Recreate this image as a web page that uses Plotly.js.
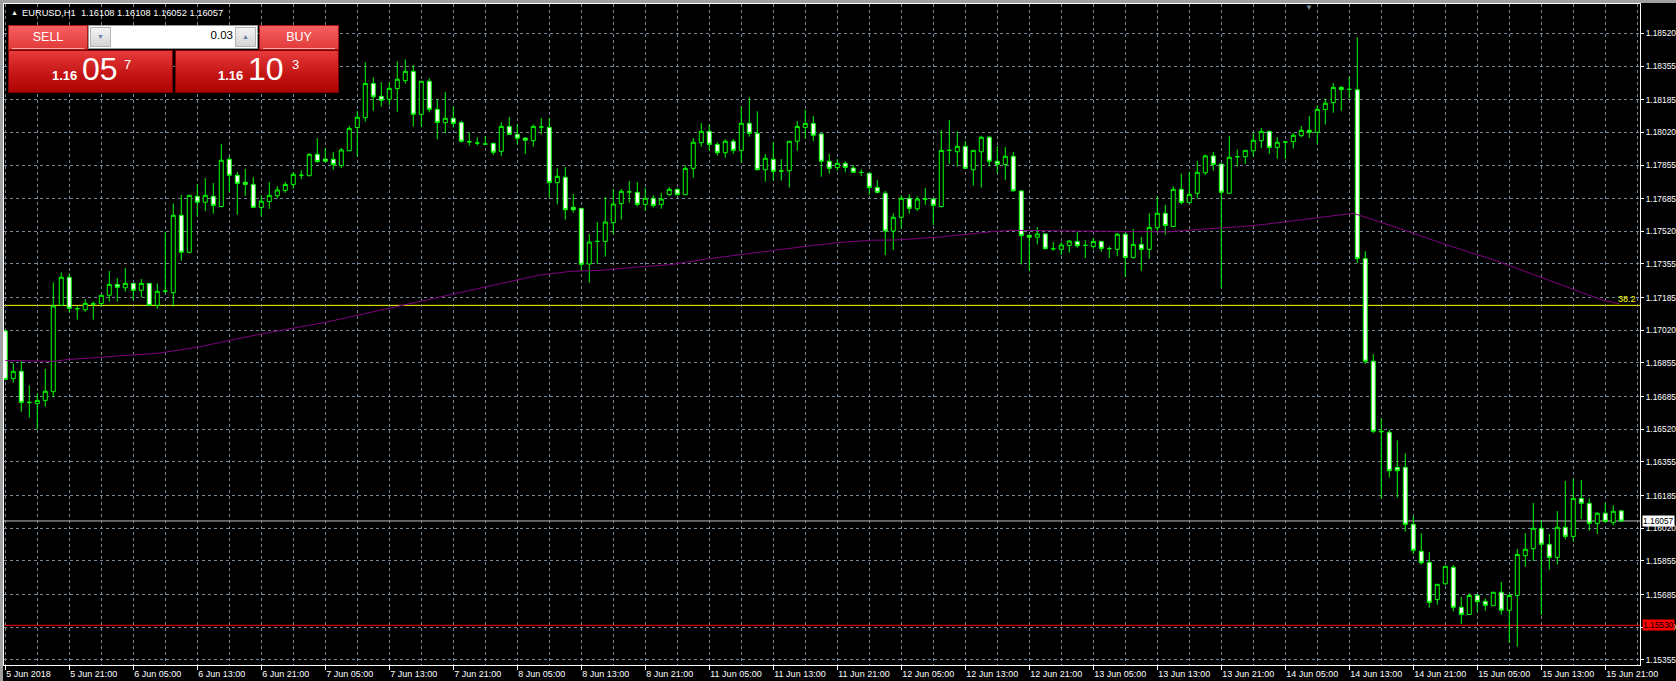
<!DOCTYPE html>
<html><head><meta charset="utf-8">
<script src="https://cdn.plot.ly/plotly-3.0.1.min.js"></script>
<style>
html,body{margin:0;padding:0;background:#000;width:1676px;height:681px;overflow:hidden;font-family:"Liberation Sans",Arial,sans-serif;}
#chart{position:absolute;left:0;top:0;width:1676px;height:681px;}
#frameL{position:absolute;left:0;top:0;width:3px;height:681px;background:#a0a0a0;}
#frameT{position:absolute;left:0;top:0;width:1676px;height:3px;background:#a0a0a0;}
#panel div,#panel span{position:absolute;box-sizing:border-box;}
.btn{top:25px;height:25px;width:80px;background:linear-gradient(#f56060,#e23a3a);border:1px solid #a81818;color:#fff;font-size:12.5px;text-align:center;line-height:23px;}
.btn i{position:absolute;left:3px;right:3px;bottom:0;height:1px;background:#f6a8a8;}
.sell{left:8px;}
.buy{left:259px;}
.lot{left:88px;top:25px;width:170px;height:24px;background:#fff;border:1px solid #9a9a9a;}
.spin{top:1px;width:21px;height:20px;background:linear-gradient(#f4f4f4,#d4d4d4);border:1px solid #b4b4b4;font-size:7px;color:#6878a8;text-align:center;line-height:18px;}
.dn{left:1px;}
.up{right:1px;}
.val{right:24px;top:4px;font-size:11.5px;color:#000;line-height:1;}
.big{top:50px;height:43px;background:linear-gradient(#e83a3a,#c61616 55%,#ad0303);border:1px solid #7c0000;color:#fff;}
.bl{left:8px;width:165px;}
.br{left:175px;width:164px;}
.s{font-size:13px;font-weight:bold;line-height:1;top:18px;}
.b{font-size:32px;line-height:1;top:2px;}
.p{font-size:13px;line-height:1;top:7px;}
</style></head><body>
<div id="chart"></div>
<div id="frameL"></div><div id="frameT"></div>
<div id="panel">
  <div class="btn sell">SELL<i></i></div>
  <div class="lot"><div class="spin dn">&#9660;</div><span class="val">0.03</span><div class="spin up">&#9650;</div></div>
  <div class="btn buy">BUY<i></i></div>
  <div class="big bl"><span class="s" style="left:43px">1.16</span><span class="b" style="left:73px">05</span><span class="p" style="left:115px">7</span></div>
  <div class="big br"><span class="s" style="left:42px">1.16</span><span class="b" style="left:72px">10</span><span class="p" style="left:116px">3</span></div>
</div>
<script>
// ---- data (EURUSD H1, 5 Jun 2018 13:00 .. 15 Jun 2018 23:00) ----
const openP = [
1.17017,1.16776,1.16813,1.16657,1.16650,1.16666,1.16710,1.17146,1.17288,1.17128,
1.17124,1.17153,1.17155,1.17197,1.17252,1.17235,1.17257,1.17222,1.17257,1.17146,
1.17217,1.17210,1.17601,1.17414,1.17697,1.17667,1.17697,1.17645,1.17884,1.17803,
1.17768,1.17757,1.17641,1.17670,1.17700,1.17727,1.17757,1.17803,1.17801,1.17909,
1.17885,1.17884,1.17852,1.17927,1.18044,1.18094,1.18267,1.18202,1.18187,1.18241,
1.18281,1.18328,1.18111,1.18278,1.18136,1.18069,1.18091,1.18070,1.17973,1.17966,
1.17961,1.17964,1.17924,1.18050,1.18010,1.17991,1.17978,1.18047,1.18045,1.17766,
1.17793,1.17641,1.17636,1.17355,1.17469,1.17469,1.17564,1.17660,1.17719,1.17717,
1.17656,1.17687,1.17656,1.17705,1.17732,1.17705,1.17838,1.17968,1.18025,1.17959,
1.17917,1.17975,1.17929,1.18066,1.18015,1.17831,1.17884,1.17825,1.17826,1.17975,
1.18045,1.18065,1.18012,1.17874,1.17842,1.17863,1.17840,1.17818,1.17813,1.17742,
1.17712,1.17522,1.17591,1.17687,1.17634,1.17683,1.17683,1.17645,1.17929,1.17922,
1.17949,1.17831,1.17922,1.17995,1.17874,1.17857,1.17899,1.17724,1.17500,1.17490,
1.17507,1.17432,1.17429,1.17449,1.17469,1.17449,1.17443,1.17469,1.17432,1.17429,
1.17505,1.17387,1.17454,1.17429,1.17538,1.17611,1.17544,1.17732,1.17665,1.17712,
1.17816,1.17901,1.17860,1.17712,1.17897,1.17897,1.17927,1.17978,1.18025,1.17944,
1.17971,1.17973,1.18003,1.18030,1.18020,1.18135,1.18170,1.18247,1.18237,1.18235,
1.17382,1.16864,1.16510,1.16505,1.16328,1.16328,1.16040,1.15904,1.15848,1.15660,
1.15740,1.15823,1.15621,1.15585,1.15681,1.15651,1.15629,1.15697,1.15606,1.15681,
1.15882,1.15917,1.16020,1.15939,1.15873,1.16025,1.15979,1.16171,1.16146,1.16045,
1.16096,1.16050,1.16108];
const highP = [
1.17022,1.16853,1.16865,1.16742,1.16702,1.16825,1.17262,1.17313,1.17308,1.17145,
1.17177,1.17165,1.17198,1.17320,1.17284,1.17335,1.17259,1.17279,1.17259,1.17257,
1.17517,1.17661,1.17704,1.17704,1.17756,1.17789,1.17764,1.17960,1.17897,1.17820,
1.17835,1.17793,1.17702,1.17769,1.17749,1.17769,1.17820,1.17828,1.17914,1.17991,
1.17941,1.17921,1.17941,1.18052,1.18128,1.18374,1.18298,1.18274,1.18274,1.18379,
1.18389,1.18360,1.18279,1.18293,1.18187,1.18224,1.18150,1.18079,1.18020,1.17995,
1.18001,1.17969,1.18072,1.18097,1.18062,1.17995,1.18059,1.18092,1.18092,1.17838,
1.17845,1.17709,1.17638,1.17507,1.17567,1.17693,1.17734,1.17734,1.17774,1.17769,
1.17739,1.17702,1.17715,1.17744,1.17736,1.17852,1.17991,1.18067,1.18060,1.17970,
1.17985,1.17985,1.18153,1.18197,1.18126,1.17911,1.17971,1.17885,1.17975,1.18077,
1.18133,1.18103,1.18012,1.17911,1.17885,1.17874,1.17853,1.17833,1.17813,1.17779,
1.17724,1.17611,1.17702,1.17707,1.17697,1.17739,1.17683,1.18032,1.18082,1.18025,
1.17975,1.17929,1.18002,1.18002,1.17951,1.17946,1.17921,1.17727,1.17500,1.17542,
1.17507,1.17466,1.17466,1.17476,1.17517,1.17476,1.17486,1.17469,1.17443,1.17512,
1.17512,1.17532,1.17491,1.17611,1.17697,1.17653,1.17747,1.17811,1.17821,1.17875,
1.17907,1.17921,1.17860,1.18002,1.17933,1.17929,1.18017,1.18042,1.18028,1.17996,
1.17975,1.18017,1.18052,1.18103,1.18156,1.18190,1.18269,1.18254,1.18301,1.18500,
1.17420,1.16900,1.16575,1.16517,1.16464,1.16399,1.16082,1.15995,1.15899,1.15737,
1.15828,1.15835,1.15673,1.15692,1.15686,1.15666,1.15697,1.15749,1.15692,1.15915,
1.15995,1.16148,1.16060,1.15991,1.16107,1.16259,1.16269,1.16264,1.16171,1.16101,
1.16149,1.16136,1.16108];
const lowP = [
1.16769,1.16756,1.16609,1.16579,1.16520,1.16634,1.16682,1.17144,1.17111,1.17074,
1.17114,1.17074,1.17140,1.17165,1.17165,1.17215,1.17172,1.17187,1.17143,1.17129,
1.17207,1.17140,1.17372,1.17409,1.17594,1.17623,1.17609,1.17641,1.17717,1.17604,
1.17700,1.17641,1.17594,1.17633,1.17687,1.17715,1.17735,1.17784,1.17798,1.17867,
1.17867,1.17831,1.17840,1.17925,1.17897,1.18074,1.18129,1.18150,1.18158,1.18124,
1.18266,1.18049,1.18049,1.18121,1.17985,1.18015,1.18045,1.17969,1.17953,1.17954,
1.17956,1.17905,1.17900,1.18010,1.17958,1.17911,1.17948,1.18010,1.17690,1.17656,
1.17579,1.17614,1.17321,1.17261,1.17355,1.17392,1.17507,1.17579,1.17665,1.17645,
1.17624,1.17640,1.17634,1.17700,1.17702,1.17703,1.17791,1.17948,1.17927,1.17902,
1.17892,1.17912,1.17867,1.17998,1.17828,1.17771,1.17776,1.17776,1.17741,1.17927,
1.17988,1.17975,1.17796,1.17811,1.17826,1.17818,1.17815,1.17799,1.17703,1.17712,
1.17400,1.17426,1.17533,1.17609,1.17623,1.17653,1.17552,1.17640,1.17860,1.17847,
1.17838,1.17751,1.17741,1.17847,1.17813,1.17779,1.17720,1.17353,1.17321,1.17454,
1.17430,1.17422,1.17400,1.17412,1.17437,1.17385,1.17432,1.17416,1.17385,1.17394,
1.17289,1.17382,1.17320,1.17382,1.17515,1.17503,1.17544,1.17655,1.17665,1.17685,
1.17805,1.17826,1.17232,1.17712,1.17847,1.17860,1.17897,1.17941,1.17911,1.17887,
1.17885,1.17938,1.17995,1.17991,1.17959,1.18059,1.18119,1.18129,1.18190,1.17360,
1.16850,1.16500,1.16171,1.16276,1.16175,1.16003,1.15890,1.15836,1.15619,1.15633,
1.15734,1.15601,1.15537,1.15585,1.15597,1.15604,1.15629,1.15584,1.15442,1.15422,
1.15826,1.15855,1.15582,1.15811,1.15836,1.15964,1.15952,1.16067,1.16008,1.15991,
1.16047,1.16035,1.16052];
const closeP = [
1.16772,1.16813,1.16656,1.16655,1.16666,1.16712,1.17143,1.17288,1.17131,1.17130,
1.17156,1.17153,1.17197,1.17252,1.17237,1.17257,1.17222,1.17257,1.17146,1.17217,
1.17218,1.17601,1.17414,1.17702,1.17667,1.17702,1.17651,1.17879,1.17803,1.17762,
1.17757,1.17641,1.17672,1.17702,1.17729,1.17757,1.17808,1.17803,1.17909,1.17872,
1.17874,1.17857,1.17931,1.18040,1.18096,1.18267,1.18200,1.18182,1.18242,1.18288,
1.18328,1.18111,1.18278,1.18136,1.18070,1.18091,1.18065,1.17975,1.17972,1.17966,
1.17961,1.17919,1.18050,1.18010,1.17990,1.17980,1.18050,1.18047,1.17766,1.17798,
1.17629,1.17629,1.17353,1.17466,1.17469,1.17567,1.17658,1.17722,1.17719,1.17656,
1.17687,1.17650,1.17683,1.17732,1.17705,1.17838,1.17970,1.18025,1.17959,1.17917,
1.17975,1.17929,1.18066,1.18015,1.17831,1.17889,1.17823,1.17825,1.17975,1.18050,
1.18065,1.18005,1.17874,1.17838,1.17863,1.17843,1.17818,1.17817,1.17741,1.17717,
1.17522,1.17591,1.17687,1.17636,1.17683,1.17683,1.17651,1.17929,1.17929,1.17949,
1.17838,1.17929,1.17995,1.17874,1.17858,1.17899,1.17725,1.17498,1.17490,1.17507,
1.17432,1.17432,1.17451,1.17471,1.17447,1.17449,1.17469,1.17434,1.17433,1.17505,
1.17387,1.17454,1.17429,1.17540,1.17611,1.17549,1.17732,1.17666,1.17707,1.17818,
1.17901,1.17858,1.17717,1.17894,1.17897,1.17929,1.17980,1.18025,1.17944,1.17970,
1.17971,1.18005,1.18030,1.18020,1.18136,1.18167,1.18247,1.18236,1.18237,1.17382,
1.16864,1.16510,1.16508,1.16311,1.16311,1.16040,1.15909,1.15846,1.15646,1.15737,
1.15828,1.15621,1.15585,1.15681,1.15649,1.15631,1.15697,1.15606,1.15681,1.15888,
1.15914,1.16020,1.15939,1.15873,1.16025,1.15979,1.16171,1.16146,1.16045,1.16096,
1.16055,1.16106,1.16057];

// moving average (bar position, value)
const maBar = [0,3.9,6,7.7,11.8,16,19.3,21,24.3,28.5,32.7,40,50,60,66.6,70.75,74.5,79.1,83.25,87.4,91.6,95.75,101,104.1,108.3,111.2,116.6,120.8,123.3,125.8,130.6,134.7,140.3,145.3,148.3,151.6,154.9,157.4,160.75,164.1,167.4,168.5,174.4,179.7,186.4,193,199.4,201.8];
const maVal = [1.16868,1.16863,1.16863,1.16872,1.16884,1.16899,1.16905,1.16916,1.16937,1.16973,1.17007,1.17060,1.17150,1.17240,1.17298,1.17318,1.17323,1.17340,1.17352,1.17379,1.17399,1.17422,1.17449,1.17463,1.17475,1.17476,1.17490,1.17508,1.17518,1.17525,1.17523,1.17522,1.17517,1.17517,1.17527,1.17535,1.17545,1.17555,1.17571,1.17587,1.17606,1.17611,1.17533,1.17458,1.17371,1.17274,1.17176,1.17153];

const timeLabels = ["5 Jun 2018","5 Jun 21:00","6 Jun 05:00","6 Jun 13:00","6 Jun 21:00","7 Jun 05:00","7 Jun 13:00","7 Jun 21:00","8 Jun 05:00","8 Jun 13:00","8 Jun 21:00","11 Jun 05:00","11 Jun 13:00","11 Jun 21:00","12 Jun 05:00","12 Jun 13:00","12 Jun 21:00","13 Jun 05:00","13 Jun 13:00","13 Jun 21:00","14 Jun 05:00","14 Jun 13:00","14 Jun 21:00","15 Jun 05:00","15 Jun 13:00","15 Jun 21:00"];
const priceTicks = [1.18520,1.18355,1.18185,1.18020,1.17855,1.17685,1.17520,1.17355,1.17185,1.17020,1.16855,1.16685,1.16520,1.16355,1.16185,1.16020,1.15855,1.15685,1.15520,1.15355];

const symbolName = "EURUSD,H1";
const lastBar = {o:1.16108, h:1.16108, l:1.16052, c:1.16057};
const fiboLevel = 1.17146, fiboLabel = "38.2";
const bidPrice = 1.16057;
const alertPrice = 1.15530;

// ---- drawing ----
const xs = openP.map((_, i) => i);
const labelEvery = 8, gridEvery = 4;
const tickPos = timeLabels.map((_, i) => i * labelEvery);
const minorPos = [];
for (let i = 0; i <= 204; i += gridEvery) if (i % labelEvery) minorPos.push(i);

const GRID = '#778899';
const FONT = '"Liberation Sans", Arial, sans-serif';

const traces = [
  {
    type: 'candlestick', x: xs, open: openP, high: highP, low: lowP, close: closeP,
    increasing: {line: {color: '#00ff00', width: 1}, fillcolor: '#000000'},
    decreasing: {line: {color: '#00ff00', width: 1}, fillcolor: '#ffffff'},
    whiskerwidth: 0, hoverinfo: 'skip', showlegend: false
  },
  {
    type: 'scatter', mode: 'lines', x: maBar, y: maVal,
    line: {color: '#800080', width: 1}, hoverinfo: 'skip', showlegend: false
  }
];

const layout = {
  width: 1676, height: 681,
  margin: {l: 4, r: 36, t: 4, b: 16, pad: 0},
  paper_bgcolor: '#000000', plot_bgcolor: '#000000',
  showlegend: false,
  boxgap: 0.5, boxgroupgap: 0,
  font: {family: FONT, size: 9, color: '#ffffff'},
  xaxis: {
    type: 'linear', range: [-0.16, 204.34], fixedrange: true,
    rangeslider: {visible: false},
    tickmode: 'array', tickvals: tickPos, ticktext: timeLabels,
    ticks: 'outside', ticklen: 4, tickcolor: '#ffffff', tickwidth: 1,
    ticklabelposition: 'outside right',
    tickfont: {family: FONT, size: 9, color: '#ffffff'},
    showgrid: true, gridcolor: GRID, gridwidth: 1, griddash: '3px,3px',
    minor: {tickmode: 'array', tickvals: minorPos, showgrid: true, gridcolor: GRID, gridwidth: 1, griddash: '3px,3px', ticks: ''},
    showline: true, linecolor: '#ffffff', linewidth: 1, mirror: true,
    zeroline: false
  },
  yaxis: {
    range: [1.153295, 1.186682], fixedrange: true, side: 'right',
    tickmode: 'array', tickvals: priceTicks, ticktext: priceTicks.map(v => v.toFixed(5)),
    ticks: 'outside', ticklen: 3, tickcolor: '#ffffff', tickwidth: 1,
    tickfont: {family: FONT, size: 8.4, color: '#ffffff'},
    showgrid: true, gridcolor: GRID, gridwidth: 1, griddash: '3px,3px',
    showline: true, linecolor: '#ffffff', linewidth: 1, mirror: true,
    zeroline: false
  },
  shapes: [
    {type: 'line', xref: 'paper', x0: 0, x1: 1, yref: 'y', y0: fiboLevel, y1: fiboLevel, line: {color: '#ffff00', width: 1}, layer: 'between'},
    {type: 'line', xref: 'paper', x0: 0, x1: 1, yref: 'y', y0: bidPrice, y1: bidPrice, line: {color: '#c0c0c0', width: 1}, layer: 'between'},
    {type: 'line', xref: 'paper', x0: 0, x1: 1, yref: 'y', y0: alertPrice, y1: alertPrice, line: {color: '#ff0000', width: 1}, layer: 'between'}
  ],
  annotations: [
    {xref: 'paper', yref: 'paper', x: 0.0031, y: 0.9868, xanchor: 'left', yanchor: 'middle', text: '&#9650;', showarrow: false, font: {family: FONT, size: 7, color: '#ffffff'}},
    {xref: 'paper', yref: 'paper', x: 0.0098, y: 0.9868, xanchor: 'left', yanchor: 'middle', showarrow: false,
     text: symbolName + '  ' + [lastBar.o, lastBar.h, lastBar.l, lastBar.c].map(v => v.toFixed(5)).join(' '),
     font: {family: FONT, size: 9.3, color: '#ffffff'}},
    {xref: 'paper', yref: 'y', x: 1, y: fiboLevel, xanchor: 'right', yanchor: 'bottom', xshift: -2, yshift: -1, text: fiboLabel, showarrow: false, font: {family: FONT, size: 9, color: '#ffff00'}},
    {xref: 'paper', yref: 'y', x: 1, y: bidPrice, xanchor: 'left', yanchor: 'middle', xshift: 2, text: bidPrice.toFixed(5), showarrow: false, bgcolor: '#ffffff', borderpad: 0, font: {family: FONT, size: 8.4, color: '#000000'}},
    {xref: 'paper', yref: 'y', x: 1, y: alertPrice, xanchor: 'left', yanchor: 'middle', xshift: 2, text: alertPrice.toFixed(5), showarrow: false, bgcolor: '#ff0000', borderpad: 0, font: {family: FONT, size: 8.4, color: '#000000'}},
    {xref: 'paper', yref: 'paper', x: 0.7977, y: 1.0, xanchor: 'center', yanchor: 'top', yshift: 3, text: '&#9660;', showarrow: false, font: {family: FONT, size: 8, color: '#7a8a9a'}}
  ]
};

Plotly.newPlot('chart', traces, layout, {staticPlot: true, displayModeBar: false});
</script>
</body></html>
